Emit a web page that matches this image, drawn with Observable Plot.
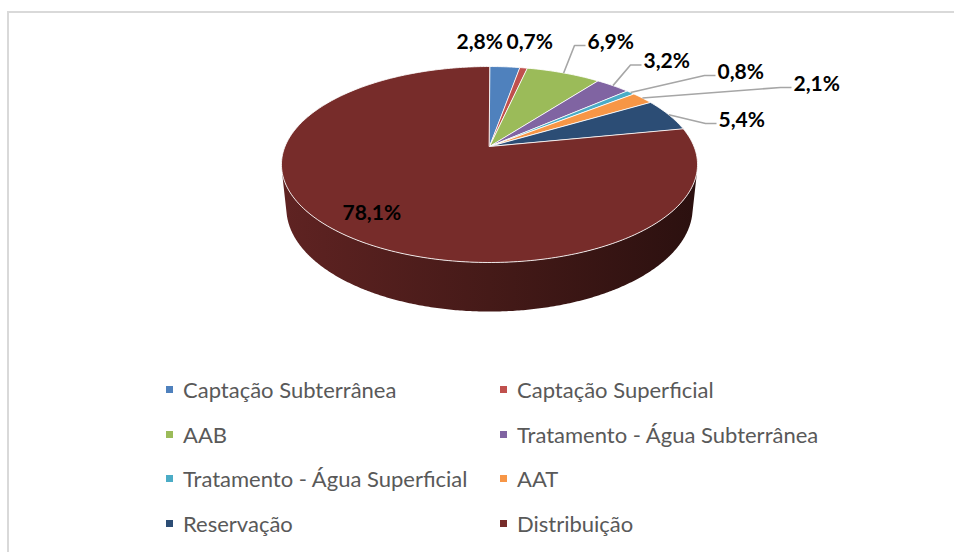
<!DOCTYPE html>
<html><head><meta charset="utf-8">
<script src="https://cdn.jsdelivr.net/npm/d3@7"></script>
<script src="https://cdn.jsdelivr.net/npm/@observablehq/plot@0.6"></script>
<style>
body{margin:0;background:#fff;}
#wrap{position:relative;width:954px;height:552px;overflow:hidden;font-family:Lato,"Open Sans",sans-serif;}
#frame{position:absolute;left:7px;top:11px;right:-10px;bottom:-10px;border-top:2px solid #d9d9d9;border-left:2px solid #d9d9d9;}
#chart{position:absolute;left:0;top:0;}
#legend{position:absolute;left:166px;top:367px;display:grid;grid-template-columns:339px auto;grid-auto-rows:44.7px;}
#legend .item:nth-child(2n){margin-left:-5px;}
.item{display:flex;align-items:center;font-size:22px;color:#595959;white-space:nowrap;}
.sw{width:7px;height:7px;margin-right:10px;flex:none;}
</style></head>
<body><div id="wrap"><div id="frame"></div><div id="chart"></div><div id="legend"></div></div>
<script>
// ---- data ----
const categories = ["Captação Subterrânea","Captação Superficial","AAB","Tratamento - Água Subterrânea","Tratamento - Água Superficial","AAT","Reservação","Distribuição"];
const values = [2.8, 0.7, 6.9, 3.2, 0.8, 2.1, 5.4, 78.1];
const valueLabels = ["2,8%","0,7%","6,9%","3,2%","0,8%","2,1%","5,4%","78,1%"];
const colors = ["#4F81BD","#C0504D","#9BBB59","#8064A2","#4BACC6","#F79646","#2C4D75","#772C2A"];

// ---- layout ----
const W = 954, H = 360;
const PIE = {cx: 489, cy: 146, F: 986.5, R: 0.2073, D: 1, h: 0.0502, sinT: 0.463};
const labelLayout = [[456,41.5],[506,41.5],[587,41.5],[643,61],[717,71.5],[793,83.5],[718,119.5],[342,212.5]];
const hasLeader = [false,false,true,true,true,true,true,false];
const sideShade = [[0,0.80],[0.1,0.76],[0.5,0.58],[1,0.36]];

const sT = PIE.sinT, cT = Math.sqrt(1 - sT*sT);
function project(theta, yw) {
  const t = theta * Math.PI / 180;
  const X = PIE.R * Math.sin(t), Z = -PIE.R * Math.cos(t);
  const depth = PIE.D - yw * sT - Z * cT;
  return [PIE.cx + PIE.F * X / depth, PIE.cy + PIE.F * (Z * sT - yw * cT) / depth];
}

const total = d3.sum(values);
let acc = 0;
const slices = values.map((v, i) => {
  const a0 = acc / total * 360; acc += v; const a1 = acc / total * 360;
  return {i, a0, a1, mid: (a0 + a1) / 2};
});

// top faces
const topPts = [];
for (const s of slices) {
  const n = Math.max(2, Math.ceil(s.a1 - s.a0));
  topPts.push({id: s.i, x: PIE.cx, y: PIE.cy, color: colors[s.i]});
  for (let k = 0; k <= n; k++) {
    const [x, y] = project(s.a0 + (s.a1 - s.a0) * k / n, 0);
    topPts.push({id: s.i, x, y, color: colors[s.i]});
  }
}

// visible part of the cylinder wall, per slice
const thMin = Math.acos(-PIE.R / (PIE.D * cT)) * 180 / Math.PI;
const thMax = 360 - thMin;
const [leftX] = project(thMax, 0), [rightX] = project(thMin, 0);
const sidePts = [];
for (const s of slices) {
  const a = Math.max(s.a0, thMin), b = Math.min(s.a1, thMax);
  if (b <= a) continue;
  const n = Math.max(2, Math.ceil((b - a) * 2));
  const fill = `url(#side-${s.i})`;
  for (let k = 0; k <= n; k++) { const [x, y] = project(a + (b - a) * k / n, 0); sidePts.push({id: s.i, x, y, fill}); }
  for (let k = n; k >= 0; k--) { const [x, y] = project(a + (b - a) * k / n, -PIE.h); sidePts.push({id: s.i, x, y, fill}); }
}

// leaders
const leaderPts = [];
slices.forEach((s, i) => {
  if (!hasLeader[i]) return;
  const [lx, ly] = labelLayout[i];
  const [rx, ry] = project(s.mid, 0);
  leaderPts.push({id: i, x: rx, y: ry}, {id: i, x: lx - 13, y: ly + 3.5}, {id: i, x: lx - 2, y: ly + 3.5});
});

const labelData = slices.map((s, i) => ({x: labelLayout[i][0], y: labelLayout[i][1], text: valueLabels[i]}));

// gradient definitions for the side shading
function gradients() {
  const ns = "http://www.w3.org/2000/svg";
  const defs = document.createElementNS(ns, "defs");
  colors.forEach((c, i) => {
    const g = document.createElementNS(ns, "linearGradient");
    g.setAttribute("id", `side-${i}`);
    g.setAttribute("gradientUnits", "userSpaceOnUse");
    g.setAttribute("x1", leftX); g.setAttribute("x2", rightX);
    g.setAttribute("y1", 0); g.setAttribute("y2", 0);
    const base = d3.rgb(c);
    for (const [o, f] of sideShade) {
      const st = document.createElementNS(ns, "stop");
      st.setAttribute("offset", o);
      st.setAttribute("stop-color", d3.rgb(base.r * f, base.g * f, base.b * f).formatHex());
      g.appendChild(st);
    }
    defs.appendChild(g);
  });
  return defs;
}

const chart = Plot.plot({
  width: W, height: H, margin: 0,
  x: {domain: [0, W], range: [0, W], axis: null},
  y: {domain: [0, H], range: [0, H], axis: null},
  color: {type: "identity"},
  style: {background: "transparent", overflow: "visible"},
  marks: [
    gradients,
    Plot.line(sidePts, {x: "x", y: "y", z: "id", fill: "fill", stroke: "none", curve: "linear-closed"}),
    Plot.line(topPts, {x: "x", y: "y", z: "id", fill: "color", stroke: "white", strokeWidth: 1, strokeOpacity: 0.85, curve: "linear-closed", strokeLinejoin: "round"}),
    Plot.line(leaderPts, {x: "x", y: "y", z: "id", stroke: "#a6a6a6", strokeWidth: 1.6, strokeLinecap: "butt", strokeLinejoin: "miter"}),
    Plot.text(labelData, {x: "x", y: "y", text: "text", textAnchor: "start", fontSize: 21, fontWeight: "bold", fill: "#000", fontFamily: "Lato, 'Open Sans', sans-serif"})
  ]
});
document.getElementById("chart").appendChild(chart);

// legend (row-major, two columns)
const legend = document.getElementById("legend");
categories.forEach((c, i) => {
  const d = document.createElement("div");
  d.className = "item";
  d.innerHTML = `<span class="sw" style="background:${colors[i]}"></span><span>${c}</span>`;
  legend.appendChild(d);
});
</script>
</body></html>
